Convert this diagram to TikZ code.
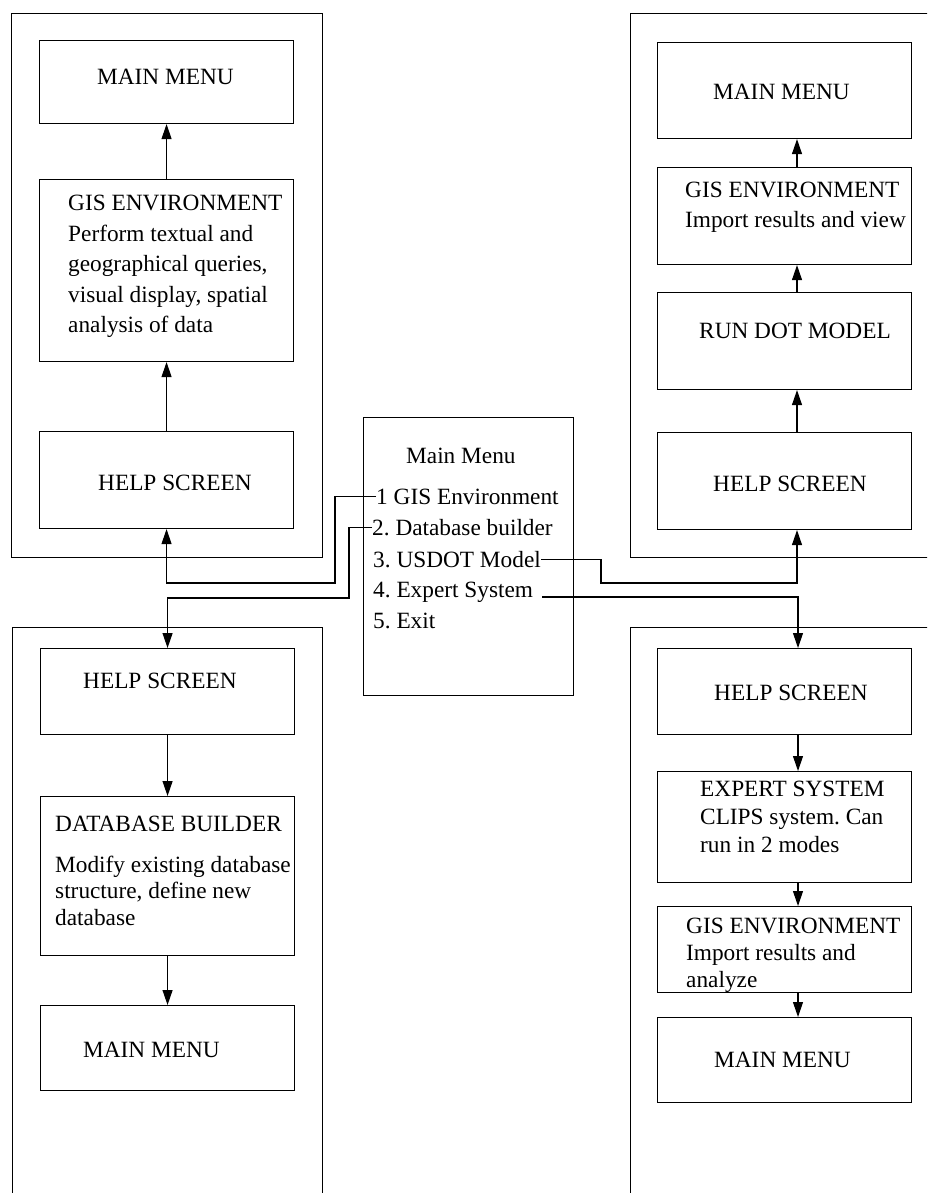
\documentclass[tikz,border=0pt]{standalone}
\usepackage{fontspec}
\setmainfont{Liberation Serif}
\usetikzlibrary{arrows.meta, positioning}
\newcommand{\diagfont}{\fontsize{23.3}{30.5}\selectfont\frenchspacing}
\tikzset{
  % Outer frame round one module
  panel/.style={rectangle, draw, line width=1.1pt, anchor=north west, inner sep=0pt},
  % Screen box (fixed width, height as parameter)
  screen/.style={rectangle, draw, line width=1.1pt, anchor=north west, inner sep=0pt,
    minimum width=254pt, minimum height=#1},
  % One-line text inside a screen box
  boxtext/.style={anchor=base west, inner sep=0pt, font=\diagfont},
  % Several lines inside a screen box
  blurb/.style={anchor=north west, align=left, inner sep=0pt, font=\diagfont},
  menuitem/.style={anchor=base west, inner sep=0pt, font=\diagfont},
  link/.style={-{Triangle[length=15pt, width=10pt]}, line width=1.1pt}
}
\begin{document}
\begin{tikzpicture}[x=1pt, y=-1pt]
  \useasboundingbox (0,0) rectangle (927,1193);
  \clip (0,0) rectangle (927,1193);

  % Module frames (right and bottom ones run off the page)
  \node[panel, minimum width=311pt, minimum height=544pt] (gisgroup) at (11,13) {};
  \node[panel, minimum width=320pt, minimum height=544pt] (dotgroup) at (630,13) {};
  \node[panel, minimum width=310pt, minimum height=600pt] (dbgroup) at (12,627) {};
  \node[panel, minimum width=320pt, minimum height=600pt] (expgroup) at (630,627) {};

  % Central main menu
  \node[panel, minimum width=210pt, minimum height=278pt] (menu) at (363,417) {};
  \node[menuitem] (title) at (406,463) {Main Menu};
  \node[menuitem] (opt1) at (376,504) {1 GIS Environment};
  \node[menuitem] (opt2) at (372,535) {2. Database builder};
  \node[menuitem] (opt3) at (373,567) {3. USDOT Model};
  \node[menuitem] (opt4) at (373,597) {4. Expert System};
  \node[menuitem] (opt5) at (373,628) {5. Exit};

  % Top left: GIS environment
  \node[screen=83pt] (mmA) at (39,40) {};
  \node[boxtext] (mmAtext) at (97,85) {MAIN MENU};
  \node[screen=182pt] (gisA) at (39,179) {};
  \node[blurb] (gisAtext) at (68,195) {GIS ENVIRONMENT\\Perform textual and\\geographical queries,\\visual display, spatial\\analysis of data};
  \node[screen=97pt] (helpA) at (39,431) {};
  \node[boxtext] (helpAtext) at (98,490) {HELP SCREEN};

  % Top right: USDOT model
  \coordinate (colB) at (797,0);
  \node[screen=96pt] (mmB) at (657,42) {};
  \node[boxtext] (mmBtext) at (713,100) {MAIN MENU};
  \node[screen=97pt] (gisB) at (657,167) {};
  \node[blurb, font=\fontsize{23.3}{30}\selectfont] (gisBtext) at (685,182) {GIS ENVIRONMENT\\Import results and view};
  \node[screen=97pt] (dotB) at (657,292) {};
  \node[boxtext] (dotBtext) at (699,338) {RUN DOT MODEL};
  \node[screen=97pt] (helpB) at (657,432) {};
  \node[boxtext] (helpBtext) at (713,491) {HELP SCREEN};

  % Bottom left: database builder
  \node[screen=86pt] (helpC) at (40,648) {};
  \node[boxtext] (helpCtext) at (83,688) {HELP SCREEN};
  \node[screen=159pt] (dbC) at (40,796) {};
  \node[blurb, font=\fontsize{23.3}{26.5}\selectfont] (dbCtext) at (55,816) {DATABASE BUILDER\\[14pt]Modify existing database\\structure, define new\\database};
  \node[screen=85pt] (mmC) at (40,1005) {};
  \node[boxtext] (mmCtext) at (83,1057) {MAIN MENU};

  % Bottom right: expert system
  \coordinate (colD) at (798,0);
  \node[screen=86pt] (helpD) at (657,648) {};
  \node[boxtext] (helpDtext) at (714,700) {HELP SCREEN};
  \node[screen=111pt] (expD) at (657,771) {};
  \node[blurb, font=\fontsize{23.3}{28}\selectfont\frenchspacing] (expDtext) at (700,781) {EXPERT SYSTEM\\CLIPS system. Can\\run in 2 modes};
  \node[screen=86pt] (gisD) at (657,906) {};
  \node[blurb, font=\fontsize{23.3}{27}\selectfont] (gisDtext) at (686,918) {GIS ENVIRONMENT\\Import results and\\analyze};
  \node[screen=85pt] (mmD) at (657,1017) {};
  \node[boxtext] (mmDtext) at (714,1067) {MAIN MENU};

  % --- flow inside each module ---
  \draw[link] (helpA) -- (gisA);
  \draw[link] (gisA) -- (mmA);
  \draw[link] (helpB.north -| colB) -- (dotB.south -| colB);
  \draw[link] (dotB.north -| colB) -- (gisB.south -| colB);
  \draw[link] (gisB.north -| colB) -- (mmB.south -| colB);
  \draw[link] (helpC) -- (dbC);
  \draw[link] (dbC) -- (mmC);
  \draw[link] (helpD.south -| colD) -- (expD.north -| colD);
  \draw[link] (expD.south -| colD) -- (gisD.north -| colD);
  \draw[link] (gisD.south -| colD) -- (mmD.north -| colD);

  % --- menu choices to the help screens ---
  \draw[link] (opt1.west) -| (335,583) -| (helpA.south);
  \draw[link] (opt2.west) -| (349,598) -| (helpC.north);
  \draw[link] (opt3.east) -| (601,583) -| (helpB.south -| colB);
  \draw[link] ([xshift=9pt]opt4.base east) -| (helpD.north -| colD);
\end{tikzpicture}
\end{document}
